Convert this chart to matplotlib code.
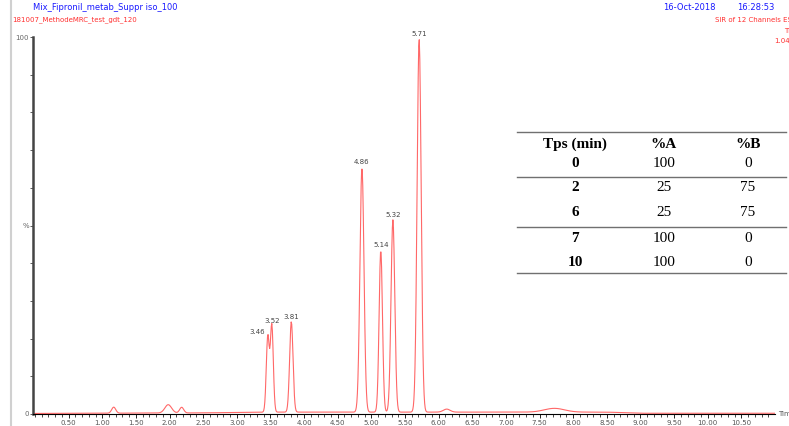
import numpy as np
import matplotlib
matplotlib.use("Agg")
import matplotlib.pyplot as plt

# peak table: retention time (min), relative height (%), width (sigma, min)
peak_rt = [1.17, 1.98, 2.18, 3.46, 3.52, 3.81, 4.86, 5.14, 5.32, 5.71, 6.12, 7.72]
peak_h = [1.6, 2.2, 1.5, 20.0, 23.0, 24.0, 65.0, 43.0, 51.0, 99.0, 0.8, 1.0]
peak_w = [0.03, 0.05, 0.03, 0.022, 0.022, 0.025, 0.03, 0.025, 0.028, 0.03, 0.05, 0.15]
labelled = [3.46, 3.52, 3.81, 4.86, 5.14, 5.32, 5.71]

# gradient table
tps = ["0", "2", "6", "7", "10"]
pct_a = ["100", "25", "25", "100", "100"]
pct_b = ["0", "75", "75", "0", "0"]

xticks = [0.5, 1.0, 1.5, 2.0, 2.5, 3.0, 3.5, 4.0, 4.5, 5.0, 5.5, 6.0,
          6.5, 7.0, 7.5, 8.0, 8.5, 9.0, 9.5, 10.0, 10.5]

t = np.arange(0.0, 11.0, 0.008)
sig = np.zeros_like(t)
for rt, h, w in zip(peak_rt, peak_h, peak_w):
    sig += h * np.exp(-0.5 * ((t - rt) / w) ** 2)
# slight baseline drift
sig += np.interp(t, [0, 2.5, 3.5, 8.5, 9.0, 11], [0.15, 0.3, 0.5, 0.5, 0.2, 0.2])

fig = plt.figure(figsize=(7.89, 4.26), dpi=100)
ax = fig.add_axes([33 / 789, 1 - 414 / 426, 742 / 789, 377 / 426])
ax.plot(t, sig, color="#ff4d4d", lw=0.8, alpha=0.85)
ax.set_xlim(-0.03, 11.0)
ax.set_ylim(0, 100)

for rt, h in zip(peak_rt, peak_h):
    if rt in labelled:
        ax.annotate(f"{rt:.2f}", (rt, h + 0.5), textcoords="offset points",
                    xytext=(-2 if rt == 3.46 else 0, 2), ha="right" if rt == 3.46 else "center",
                    fontsize=5, color="#444444")

for s in ["top", "right"]:
    ax.spines[s].set_visible(False)
ax.spines["left"].set_linewidth(1.8)
ax.spines["left"].set_color("#444444")
ax.spines["bottom"].set_linewidth(0.8)
ax.set_yticks([0, 50, 100])
ax.set_yticklabels(["0", "%", "100"], fontsize=5, color="#666666")
ax.set_yticks(np.arange(0, 101, 10), minor=True)
ax.tick_params(axis="y", which="both", length=2, width=0.6, color="#444444", pad=1)
ax.set_xticks(xticks)
ax.set_xticklabels([f"{v:.2f}" for v in xticks], fontsize=5, color="#555555")
ax.set_xticks(np.arange(0, 11.0, 0.1), minor=True)
ax.tick_params(axis="x", which="major", length=3, width=0.6, pad=1)
ax.tick_params(axis="x", which="minor", length=2, width=0.5)
ax.text(11.05, 0, "Time", fontsize=5, color="#555555", va="center", transform=ax.transData,
        clip_on=False)

# left frame line
fig.add_artist(plt.Line2D([11 / 789, 11 / 789], [0, 1], color="#d0d0d0", lw=1.5))

# header texts
fig.text(33 / 789, 1 - 8 / 426, "Mix_Fipronil_metab_Suppr iso_100", fontsize=6,
         color="#1a1aff", va="center")
fig.text(12 / 789, 1 - 20 / 426, "181007_MethodeMRC_test_gdt_120", fontsize=5,
         color="#ff3030", va="center")
fig.text(716 / 789, 1 - 8 / 426, "16-Oct-2018", fontsize=6, color="#1a1aff", va="center",
         ha="right")
fig.text(737 / 789, 1 - 8 / 426, "16:28:53", fontsize=6, color="#1a1aff", va="center",
         ha="left")
fig.text(715 / 789, 1 - 20 / 426, "SIR of 12 Channels ES+", fontsize=5, color="#ff3030",
         va="center", ha="left")
fig.text(784 / 789, 1 - 31 / 426, "TIC", fontsize=5, color="#ff3030", va="center", ha="left")
fig.text(774 / 789, 1 - 41 / 426, "1.04e7", fontsize=5, color="#ff3030", va="center",
         ha="left")

# gradient table
serif = ["Liberation Serif", "DejaVu Serif"]
col_x = [575, 664, 748]
row_y = [163, 188, 212, 239, 262]
fy = lambda y: 1 - y / 426
for y in [132, 177, 227, 273]:
    fig.add_artist(plt.Line2D([517 / 789, 786 / 789], [fy(y), fy(y)], color="#707070", lw=1.0))
for x, h in zip(col_x, ["Tps (min)", "%A", "%B"]):
    fig.text(x / 789, fy(144), h, fontsize=11, fontweight="bold", family=serif,
             ha="center", va="center")
for y, a, b, c in zip(row_y, tps, pct_a, pct_b):
    fig.text(col_x[0] / 789, fy(y), a, fontsize=11, fontweight="bold", family=serif,
             ha="center", va="center")
    fig.text(col_x[1] / 789, fy(y), b, fontsize=11, family=serif, ha="center", va="center")
    fig.text(col_x[2] / 789, fy(y), c, fontsize=11, family=serif, ha="center", va="center")

fig.savefig("out.png", dpi=100)
